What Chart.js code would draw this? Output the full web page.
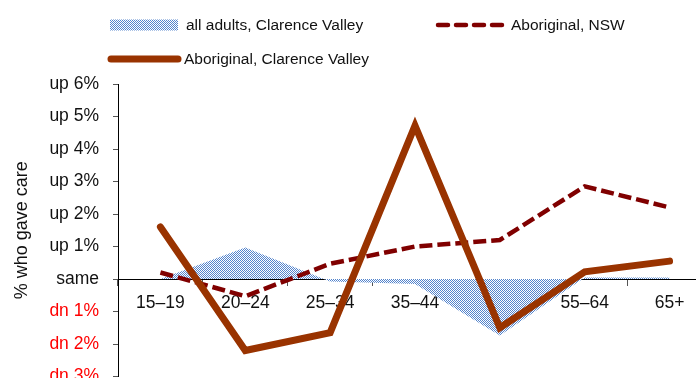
<!DOCTYPE html>
<html>
<head>
<meta charset="utf-8">
<script src="https://cdn.jsdelivr.net/npm/chart.js@4.4.1/dist/chart.umd.min.js"></script>
<style>
    html, body { margin: 0; padding: 0; background: #fff; overflow: hidden; }
    #wrap { position: relative; width: 712px; height: 401px; }
</style>
</head>
<body>
<div id="wrap"><canvas id="careChart"></canvas></div>
<script>
// Categories and series (percentage-point change in % who gave care)
const ageGroups = ['15–19', '20–24', '25–34', '35–44', '45–54', '55–64', '65+'];
const allAdultsCV = [0.0, 0.97, -0.08, -0.15, -1.74, 0.05, 0.05];
const aboriginalNSW = [0.2, -0.53, 0.47, 1.0, 1.2, 2.85, 2.2];
const aboriginalCV = [1.6, -2.2, -1.65, 4.72, -1.5, 0.22, 0.55];

// Y tick labels, from -3 up to 6
const yTickValues = [-3, -2, -1, 0, 1, 2, 3, 4, 5, 6];
const yTickLabels = ['dn 3%', 'dn 2%', 'dn 1%', 'same', 'up 1%', 'up 2%', 'up 3%', 'up 4%', 'up 5%', 'up 6%'];

const seriesNames = ['Aboriginal, Clarence Valley', 'Aboriginal, NSW', 'all adults, Clarence Valley'];

const FONT = '"Liberation Sans", Arial, sans-serif';

// small checker tile for the "all adults" area
function makePattern() {
    const c = document.createElement('canvas');
    c.width = 2;
    c.height = 2;
    const g = c.getContext('2d');
    g.fillStyle = '#ffffff';
    g.fillRect(0, 0, 2, 2);
    g.fillStyle = '#5484cc';
    g.fillRect(0, 0, 1, 1);
    g.fillRect(1, 1, 1, 1);
    return g.createPattern(c, 'repeat');
}
const checker = makePattern();

// legend drawn by hand so the two-column layout matches
const legendPlugin = {
    id: 'gridLegend',
    afterDraw(chart) {
        const ctx = chart.ctx;
        const items = [
            { ds: 2, x: 110, y: 25 },
            { ds: 1, x: 435, y: 25 },
            { ds: 0, x: 108, y: 59 }
        ];
        ctx.save();
        items.forEach(it => {
            const ds = chart.data.datasets[it.ds];
            if (it.ds === 2) {
                ctx.fillStyle = checker;
                ctx.fillRect(it.x, it.y - 5.5, 68, 11);
            } else {
                ctx.strokeStyle = ds.borderColor;
                ctx.lineWidth = ds.borderWidth;
                ctx.lineCap = 'round';
                ctx.setLineDash(ds.borderDash.length ? [10, 8] : []);
                ctx.beginPath();
                ctx.moveTo(it.x + 3, it.y);
                ctx.lineTo(it.x + 70, it.y);
                ctx.stroke();
                ctx.setLineDash([]);
            }
            ctx.fillStyle = '#111';
            ctx.font = '15.5px ' + FONT;
            ctx.textBaseline = 'middle';
            ctx.fillText(ds.label, it.x + 76, it.y + 1);
        });
        ctx.restore();
    }
};

const ctx = document.getElementById('careChart').getContext('2d');
const careChart = new Chart(ctx, {
    type: 'line',
    data: {
        labels: ageGroups,
        datasets: [{
            label: seriesNames[0],
            data: aboriginalCV,
            borderColor: '#993300',
            borderWidth: 7,
            borderDash: [],
            borderJoinStyle: 'miter',
            borderCapStyle: 'round',
            pointRadius: 0,
            fill: false,
            order: 0
        }, {
            label: seriesNames[1],
            data: aboriginalNSW,
            borderColor: '#800000',
            borderWidth: 4.5,
            borderDash: [13, 5],
            pointRadius: 0,
            fill: false,
            order: 1
        }, {
            label: seriesNames[2],
            data: allAdultsCV,
            borderWidth: 0,
            borderColor: 'rgba(0,0,0,0)',
            backgroundColor: checker,
            borderDash: [],
            pointRadius: 0,
            fill: 'origin',
            order: 2
        }]
    },
    options: {
        responsive: true,
        maintainAspectRatio: false,
        animation: false,
        layout: { padding: { top: 84, right: 0, left: 0, bottom: 0 } },
        plugins: {
            legend: { display: false },
            tooltip: { enabled: false }
        },
        scales: {
            x: {
                type: 'category',
                position: { y: 0 },
                offset: true,
                grid: {
                    offset: true,
                    drawOnChartArea: false,
                    drawTicks: true,
                    tickLength: 6,
                    color: '#555'
                },
                border: { color: '#000', width: 1 },
                ticks: {
                    color: '#111',
                    padding: 8,
                    maxRotation: 0,
                    font: { family: FONT, size: 17.5 }
                }
            },
            y: {
                min: -3,
                max: 6,
                afterFit(scale) { scale.width = 118; },
                afterBuildTicks(scale) {
                    scale.ticks = yTickValues.map(v => ({ value: v }));
                },
                grid: {
                    drawOnChartArea: false,
                    tickLength: 5,
                    color: '#555'
                },
                border: { color: '#000', width: 1 },
                ticks: {
                    padding: 14,
                    color: c => (c.tick && c.tick.value < 0) ? '#ff0000' : '#111',
                    font: { family: FONT, size: 17.5 },
                    callback: v => yTickLabels[yTickValues.indexOf(v)]
                },
                title: {
                    display: true,
                    text: '% who gave care',
                    color: '#111',
                    padding: { top: 11, bottom: 0 },
                    font: { family: FONT, size: 18 }
                }
            }
        }
    },
    plugins: [legendPlugin]
});
</script>
</body>
</html>
